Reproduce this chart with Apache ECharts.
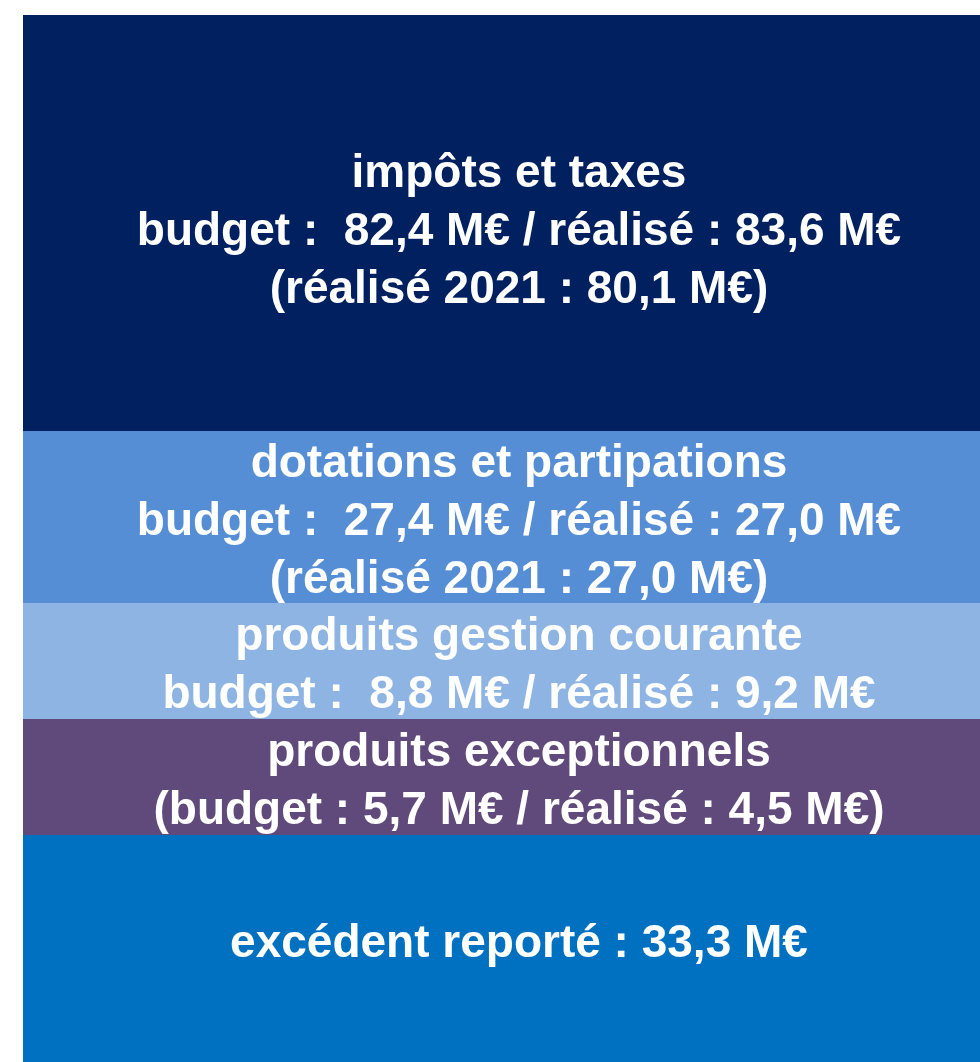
<!DOCTYPE html>
<html>
<head>
<meta charset="utf-8">
<script src="https://cdn.jsdelivr.net/npm/echarts@6/dist/echarts.min.js"></script>
<style>
  html, body { margin: 0; padding: 0; background: #ffffff; }
  #chart { width: 980px; height: 1062px; }
</style>
</head>
<body>
<div id="chart"></div>
<script>
// postes de recettes, du haut vers le bas
var postes = ['impôts et taxes', 'dotations et partipations', 'produits gestion courante', 'produits exceptionnels', 'excédent reporté'];
var budget = [82.4, 27.4, 8.8, 5.7, null];
var realise = [83.6, 27.0, 9.2, 4.5, 33.3];
var realise2021 = [80.1, 27.0, null, null, null];
// hauteur relative des blocs
var blockSize = [416, 172, 116, 116, 227];
var colors = ['#002060', '#558ED5', '#8EB4E3', '#604A7B', '#0070C0'];
var labelShift = [[0, 9], [0, 5], [0, 5], [0, 5], [0, -4]];

function fmt(v) {
	return v.toFixed(1).replace('.', ',') + ' M€';
}

function labelText(i) {
	if (budget[i] == null) {
		return postes[i] + ' : ' + fmt(realise[i]);
	}
	var lines = [postes[i]];
	if (realise2021[i] == null && i == 3) {
		lines.push('(budget : ' + fmt(budget[i]) + ' / réalisé : ' + fmt(realise[i]) + ')');
	} else {
		lines.push('budget :  ' + fmt(budget[i]) + ' / réalisé : ' + fmt(realise[i]));
	}
	if (realise2021[i] != null) {
		lines.push('(réalisé 2021 : ' + fmt(realise2021[i]) + ')');
	}
	return lines.join('\n');
}

var total = 0;
for (var k = 0; k < blockSize.length; k++) total += blockSize[k];

var series = [];
for (var i = 0; i < postes.length; i++) {
	series.push({
		name: postes[i],
		type: 'bar',
		stack: 'recettes',
		barWidth: '100%',
		data: [blockSize[i]],
		itemStyle: { color: colors[i] },
		label: {
			show: true,
			position: 'inside',
			offset: labelShift[i],
			formatter: labelText.bind(null, i),
			color: '#ffffff',
			fontFamily: 'Liberation Sans, Arial, sans-serif',
			fontWeight: 'bold',
			fontSize: 46,
			lineHeight: 58,
			align: 'center'
		},
		emphasis: { disabled: true }
	});
}

var chart = echarts.init(document.getElementById('chart'));
chart.setOption({
	animation: false,
	backgroundColor: '#ffffff',
	// le bloc déborde à droite de l'image, comme sur l'original recadré
	grid: { left: 23, top: 15, width: 992, bottom: 0, outerBoundsMode: 'none', containLabel: false },
	xAxis: { type: 'category', data: ['recettes'], show: false },
	yAxis: { type: 'value', min: 0, max: total, inverse: true, show: false },
	series: series
});
</script>
</body>
</html>
